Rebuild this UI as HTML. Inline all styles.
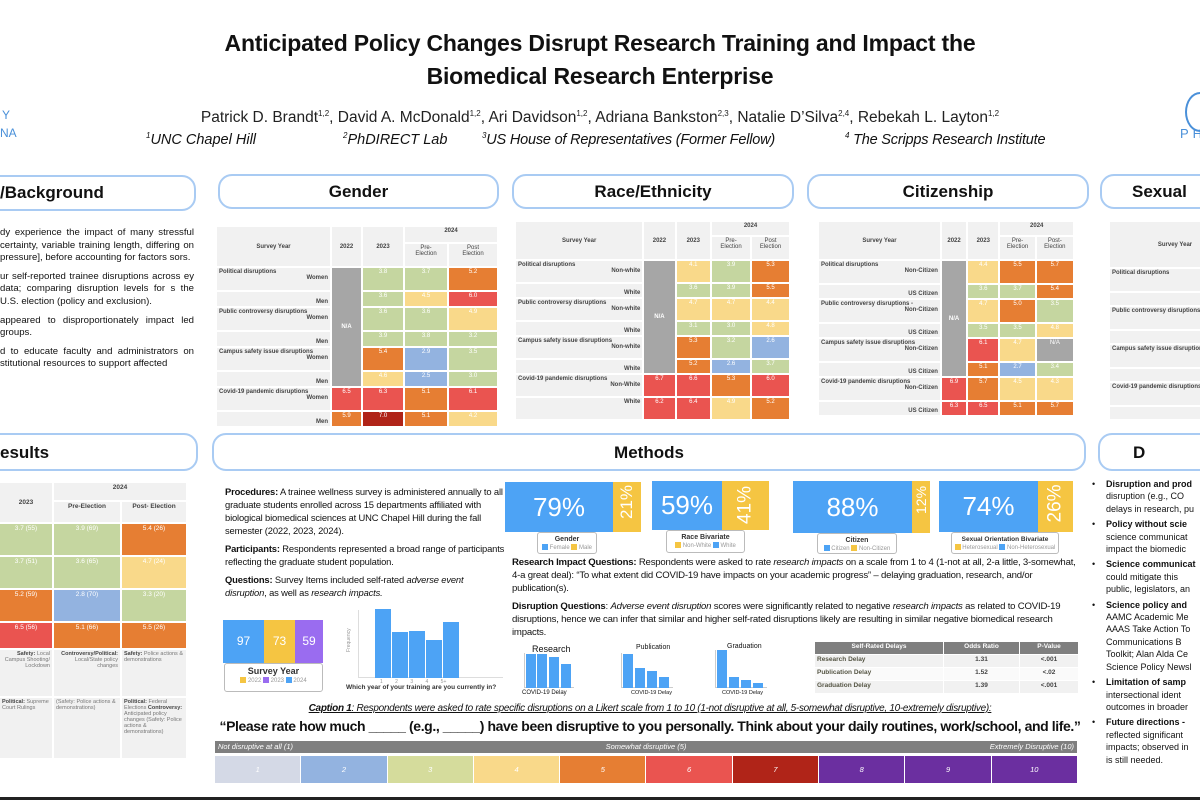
<!DOCTYPE html>
<html><head><meta charset="utf-8"><style>
*{margin:0;padding:0;box-sizing:border-box}
html,body{width:1200px;height:800px;overflow:hidden}
body{background:#fff;font-family:"Liberation Sans",sans-serif;position:relative;color:#111}
#w{position:absolute;left:0;top:0;width:1200px;height:800px;overflow:hidden}
.a{position:absolute}
.hdr{position:absolute;border:2px solid #a9cbf3;border-radius:14px;background:#fff;font-weight:bold;font-size:17px;text-align:center;line-height:31px}
table.t{position:absolute;border-collapse:separate;border-spacing:2px;font-size:6px;font-weight:bold;color:#444;table-layout:fixed}
table.t td{background:#f1f1f1;vertical-align:top;padding:1px 2px;text-align:center;overflow:hidden}
table.t td.l{text-align:left;white-space:nowrap}
table.t td.r{text-align:right;vertical-align:bottom}
table.t td.c{color:#fff;font-weight:normal}
.g{background:#c5d6a0!important}.y{background:#f9d98a!important}.o{background:#e67e33!important}.rd{background:#ea5450!important}.b{background:#93b3e0!important}.dr{background:#b02418!important}.na{background:#a6a6a6!important;vertical-align:middle!important;color:#fff!important}
.txt{font-size:9.6px;line-height:12.6px;text-align:justify}
.txt p{margin-bottom:6px}
.mt{font-size:9.6px;line-height:13px}
.mt p{margin-bottom:5px}
.bar{position:absolute;color:#fff;font-size:26px;text-align:center;overflow:hidden}
.leg{position:absolute;border:1px solid #bbb;border-radius:3px;background:#fff;font-size:6px;text-align:center;color:#999;line-height:9px;padding-top:2px;white-space:nowrap;overflow:hidden}
.leg b{color:#333;font-size:7px;display:block}
.sq{display:inline-block;width:6px;height:6px;vertical-align:middle}
.disc{font-size:9px;line-height:12.4px;white-space:nowrap}
.disc div{position:relative;padding-left:17px;margin-bottom:3px}
.disc div:before{content:"•";position:absolute;left:3px}
</style></head><body><div id="w">

<div class="a" style="left:0;top:27px;width:1200px;text-align:center;font-weight:bold;font-size:23px;line-height:33px;letter-spacing:-0.2px">Anticipated Policy Changes Disrupt Research Training and Impact the<br>Biomedical Research Enterprise</div>
<div class="a" style="left:0;top:109px;width:1200px;text-align:center;font-size:15.5px;color:#222">Patrick D. Brandt<sup style="font-size:8px">1,2</sup>, David A. McDonald<sup style="font-size:8px">1,2</sup>, Ari Davidson<sup style="font-size:8px">1,2</sup>, Adriana Bankston<sup style="font-size:8px">2,3</sup>, Natalie D’Silva<sup style="font-size:8px">2,4</sup>, Rebekah L. Layton<sup style="font-size:8px">1,2</sup></div>
<div class="a" style="left:146px;top:131px;font-size:14.5px;font-style:italic"><sup style="font-size:8px">1</sup>UNC Chapel Hill</div>
<div class="a" style="left:343px;top:131px;font-size:14.5px;font-style:italic"><sup style="font-size:8px">2</sup>PhDIRECT Lab</div>
<div class="a" style="left:482px;top:131px;font-size:14.5px;font-style:italic;letter-spacing:-0.2px"><sup style="font-size:8px">3</sup>US House of Representatives (Former Fellow)</div>
<div class="a" style="left:845px;top:131px;font-size:14.5px;font-style:italic;letter-spacing:-0.2px"><sup style="font-size:8px">4</sup> The Scripps Research Institute</div>
<div class="a" style="left:2px;top:108px;color:#4a90d9;font-size:12px">Y</div>
<div class="a" style="left:0;top:126px;color:#4a90d9;font-size:12px">NA</div>
<div class="a" style="left:1180px;top:126px;color:#4a90d9;font-size:13px;letter-spacing:4px">PH</div>
<div class="a" style="left:1185px;top:92px;width:30px;height:40px;border:2px solid #4a90d9;border-radius:50%"></div>

<div class="hdr" style="left:-20px;top:175px;width:216px;height:36px;text-align:left;padding-left:18px">/Background</div>
<div class="hdr" style="left:218px;top:174px;width:281px;height:35px">Gender</div>
<div class="hdr" style="left:512px;top:174px;width:282px;height:35px">Race/Ethnicity</div>
<div class="hdr" style="left:807px;top:174px;width:282px;height:35px">Citizenship</div>
<div class="hdr" style="left:1100px;top:174px;width:140px;height:35px;text-align:left;padding-left:30px">Sexual</div>
<div class="hdr" style="left:-20px;top:433px;width:218px;height:38px;text-align:left;padding-left:18px;line-height:35px">esults</div>
<div class="hdr" style="left:212px;top:433px;width:874px;height:38px;line-height:35px">Methods</div>
<div class="hdr" style="left:1098px;top:433px;width:140px;height:38px;line-height:35px;text-align:left;padding-left:33px">D</div>

<div class="a txt" style="left:0;top:227px;width:194px">
<p>dy experience the impact of many stressful certainty, variable training length, differing on pressure], before accounting for factors sors.</p>
<p>ur self-reported trainee disruptions across ey data; comparing disruption levels for s the U.S. election (policy and exclusion).</p>
<p>appeared to disproportionately impact led groups.</p>
<p>d to educate faculty and administrators on stitutional resources to support affected</p>
</div>

<!-- Gender table -->
<table class="t" style="left:215px;top:225px;width:276px">
<colgroup><col style="width:113px"><col style="width:29px"><col style="width:40px"><col style="width:42px"><col style="width:48px"></colgroup>
<tr style="height:15px"><td rowspan="2" style="vertical-align:middle">Survey Year</td><td rowspan="2" style="vertical-align:middle">2022</td><td rowspan="2" style="vertical-align:middle">2023</td><td colspan="2">2024</td></tr>
<tr style="height:22px"><td style="font-weight:normal">Pre-<br>Election</td><td style="font-weight:normal">Post<br>Election</td></tr>
<tr style="height:22px"><td class="l">Political disruptions<div style="text-align:right">Women</div></td><td rowspan="6" class="na">N/A</td><td class="c g">3.8</td><td class="c g">3.7</td><td class="c o">5.2</td></tr>
<tr style="height:14px"><td class="r">Men</td><td class="c g">3.6</td><td class="c y">4.5</td><td class="c rd">6.0</td></tr>
<tr style="height:22px"><td class="l">Public controversy disruptions<div style="text-align:right">Women</div></td><td class="c g">3.6</td><td class="c g">3.6</td><td class="c y">4.9</td></tr>
<tr style="height:14px"><td class="r">Men</td><td class="c g">3.9</td><td class="c g">3.8</td><td class="c g">3.2</td></tr>
<tr style="height:22px"><td class="l">Campus safety issue disruptions<div style="text-align:right">Women</div></td><td class="c o">5.4</td><td class="c b">2.9</td><td class="c g">3.5</td></tr>
<tr style="height:14px"><td class="r">Men</td><td class="c y">4.6</td><td class="c b">2.5</td><td class="c g">3.0</td></tr>
<tr style="height:22px"><td class="l">Covid-19 pandemic disruptions<div style="text-align:right">Women</div></td><td class="c rd">6.5</td><td class="c rd">6.3</td><td class="c o">5.1</td><td class="c rd">6.1</td></tr>
<tr style="height:14px"><td class="r">Men</td><td class="c o">5.9</td><td class="c dr">7.0</td><td class="c o">5.1</td><td class="c y">4.2</td></tr>
</table>

<!-- Race table -->
<table class="t" style="left:514px;top:220px;width:277px">
<colgroup><col style="width:113px"><col style="width:27px"><col style="width:30px"><col style="width:34px"><col style="width:33px"></colgroup>
<tr style="height:13px"><td rowspan="2" style="vertical-align:middle">Survey Year</td><td rowspan="2" style="vertical-align:middle">2022</td><td rowspan="2" style="vertical-align:middle">2023</td><td colspan="2">2024</td></tr>
<tr style="height:22px"><td style="font-weight:normal">Pre-<br>Election</td><td style="font-weight:normal">Post<br>Election</td></tr>
<tr style="height:21px"><td class="l">Political disruptions<div style="text-align:right">Non-white</div></td><td rowspan="6" class="na">N/A</td><td class="c y">4.1</td><td class="c g">3.9</td><td class="c o">5.3</td></tr>
<tr style="height:13px"><td class="r">White</td><td class="c g">3.6</td><td class="c g">3.9</td><td class="c o">5.5</td></tr>
<tr style="height:21px"><td class="l">Public controversy disruptions<div style="text-align:right">Non-white</div></td><td class="c y">4.7</td><td class="c y">4.7</td><td class="c y">4.4</td></tr>
<tr style="height:13px"><td class="r">White</td><td class="c g">3.1</td><td class="c g">3.0</td><td class="c y">4.8</td></tr>
<tr style="height:21px"><td class="l">Campus safety issue disruptions<div style="text-align:right">Non-white</div></td><td class="c o">5.3</td><td class="c g">3.2</td><td class="c b">2.6</td></tr>
<tr style="height:13px"><td class="r">White</td><td class="c o">5.2</td><td class="c b">2.6</td><td class="c g">3.7</td></tr>
<tr style="height:21px"><td class="l">Covid-19 pandemic disruptions<div style="text-align:right">Non-White</div></td><td class="c rd">6.7</td><td class="c rd">6.6</td><td class="c o">5.3</td><td class="c rd">6.0</td></tr>
<tr style="height:21px"><td class="r" style="vertical-align:top">White</td><td class="c rd">6.2</td><td class="c rd">6.4</td><td class="c y">4.9</td><td class="c o">5.2</td></tr>
</table>

<!-- Citizenship table -->
<table class="t" style="left:817px;top:220px;width:258px">
<colgroup><col style="width:120px"><col style="width:24px"><col style="width:30px"><col style="width:34px"><col style="width:36px"></colgroup>
<tr style="height:13px"><td rowspan="2" style="vertical-align:middle">Survey Year</td><td rowspan="2" style="vertical-align:middle">2022</td><td rowspan="2" style="vertical-align:middle">2023</td><td colspan="2">2024</td></tr>
<tr style="height:22px"><td style="font-weight:normal">Pre-<br>Election</td><td style="font-weight:normal">Post-<br>Election</td></tr>
<tr style="height:22px"><td class="l">Political disruptions<div style="text-align:right">Non-Citizen</div></td><td rowspan="6" class="na">N/A</td><td class="c y">4.4</td><td class="c o">5.5</td><td class="c o">5.7</td></tr>
<tr style="height:13px"><td class="r">US Citizen</td><td class="c g">3.6</td><td class="c g">3.7</td><td class="c o">5.4</td></tr>
<tr style="height:22px"><td class="l">Public controversy disruptions -<div style="text-align:right">Non-Citizen</div></td><td class="c y">4.7</td><td class="c o">5.0</td><td class="c g">3.5</td></tr>
<tr style="height:13px"><td class="r">US Citizen</td><td class="c g">3.5</td><td class="c g">3.5</td><td class="c y">4.8</td></tr>
<tr style="height:22px"><td class="l">Campus safety issue disruptions<div style="text-align:right">Non-Citizen</div></td><td class="c rd">6.1</td><td class="c y">4.7</td><td class="c na" style="vertical-align:top!important">N/A</td></tr>
<tr style="height:13px"><td class="r">US Citizen</td><td class="c o">5.1</td><td class="c b">2.7</td><td class="c g">3.4</td></tr>
<tr style="height:22px"><td class="l">Covid-19 pandemic disruptions<div style="text-align:right">Non-Citizen</div></td><td class="c rd">6.9</td><td class="c o">5.7</td><td class="c y">4.5</td><td class="c y">4.3</td></tr>
<tr style="height:13px"><td class="r">US Citizen</td><td class="c rd">6.3</td><td class="c rd">6.5</td><td class="c o">5.1</td><td class="c o">5.7</td></tr>
</table>

<!-- Sexual table partial -->
<table class="t" style="left:1108px;top:220px;width:130px">
<colgroup><col style="width:130px"></colgroup>
<tr style="height:45px"><td style="vertical-align:middle">Survey Year</td></tr>
<tr style="height:22px"><td class="l">Political disruptions</td></tr>
<tr style="height:12px"><td class="r">N</td></tr>
<tr style="height:22px"><td class="l">Public controversy disruptions</td></tr>
<tr style="height:12px"><td class="r">N</td></tr>
<tr style="height:22px"><td class="l">Campus safety issue disruptions</td></tr>
<tr style="height:12px"><td class="r">N</td></tr>
<tr style="height:22px"><td class="l">Covid-19 pandemic disruptions</td></tr>
<tr style="height:12px"><td class="r">N</td></tr>
</table>

<!-- Results table -->
<table class="t" style="left:-2px;top:481px;width:188px;font-size:6.5px">
<colgroup><col style="width:52px"><col style="width:66px"><col style="width:64px"></colgroup>
<tr style="height:17px"><td rowspan="2" style="vertical-align:middle">2023</td><td colspan="2">2024</td></tr>
<tr style="height:20px"><td>Pre-Election</td><td>Post- Election</td></tr>
<tr style="height:31px"><td class="c g">3.7 (55)</td><td class="c g">3.9 (69)</td><td class="c o">5.4 (26)</td></tr>
<tr style="height:31px"><td class="c g">3.7 (51)</td><td class="c g">3.6 (65)</td><td class="c y">4.7 (24)</td></tr>
<tr style="height:31px"><td class="c o">5.2 (59)</td><td class="c b">2.8 (70)</td><td class="c g">3.3 (20)</td></tr>
<tr style="height:25px"><td class="c rd">6.5 (56)</td><td class="c o">5.1 (66)</td><td class="c o">5.5 (26)</td></tr>
<tr style="height:46px"><td style="text-align:right;font-weight:normal;color:#777;font-size:5.5px"><b style="color:#444">Safety:</b> Local Campus Shooting/ Lockdown</td><td style="text-align:right;font-weight:normal;color:#777;font-size:5.5px"><b style="color:#444">Controversy/Political:</b> Local/State policy changes</td><td style="text-align:left;font-weight:normal;color:#777;font-size:5.5px"><b style="color:#444">Safety:</b> Police actions &amp; demonstrations</td></tr>
<tr style="height:60px"><td style="text-align:left;font-weight:normal;color:#777;font-size:5.5px"><b style="color:#444">Political:</b> Supreme Court Rulings</td><td style="text-align:left;font-weight:normal;color:#777;font-size:5.5px">(Safety: Police actions &amp; demonstrations)</td><td style="text-align:left;font-weight:normal;color:#777;font-size:5.5px"><b style="color:#444">Political:</b> Federal Elections <b style="color:#444">Controversy:</b> Anticipated policy changes (Safety: Police actions &amp; demonstrations)</td></tr>
</table>

<!-- Methods text -->
<div class="a mt" style="left:225px;top:485px;width:282px;font-size:9.4px;letter-spacing:-0.15px">
<p><b>Procedures:</b> A trainee wellness survey is administered annually to all graduate students enrolled across 15 departments affiliated with biological biomedical sciences at UNC Chapel Hill during the fall semester (2022, 2023, 2024).</p>
<p><b>Participants:</b> Respondents represented a broad range of participants reflecting the graduate student population.</p>
<p><b>Questions:</b> Survey Items included self-rated <i>adverse event disruption</i>, as well as <i>research impacts.</i></p>
</div>
<div class="bar" style="left:223px;top:620px;width:41px;height:43px;background:#4da3f5;font-size:12px;line-height:43px">97</div>
<div class="bar" style="left:264px;top:620px;width:31px;height:43px;background:#f5c542;font-size:12px;line-height:43px">73</div>
<div class="bar" style="left:295px;top:620px;width:28px;height:43px;background:#9a6cf0;font-size:12px;line-height:43px">59</div>
<div class="leg" style="left:224px;top:663px;width:99px;height:29px"><b style="font-size:9px;line-height:11px">Survey Year</b><span class="sq" style="background:#f5c542"></span> 2022 <span class="sq" style="background:#9a6cf0"></span> 2023 <span class="sq" style="background:#4da3f5"></span> 2024</div>
<div class="a" style="left:358px;top:610px;width:145px;height:68px;border-left:1px solid #ddd;border-bottom:1px solid #ddd"></div>
<div class="a" style="left:375px;top:609px;width:16px;height:69px;background:#4da3f5"></div>
<div class="a" style="left:392px;top:632px;width:16px;height:46px;background:#4da3f5"></div>
<div class="a" style="left:409px;top:631px;width:16px;height:47px;background:#4da3f5"></div>
<div class="a" style="left:426px;top:640px;width:16px;height:38px;background:#4da3f5"></div>
<div class="a" style="left:443px;top:622px;width:16px;height:56px;background:#4da3f5"></div>
<div class="a" style="left:346px;top:652px;font-size:5px;color:#999;transform:rotate(-90deg);transform-origin:left top">Frequency</div>
<div class="a" style="left:346px;top:684px;font-size:6.5px;font-weight:bold;color:#333">Which year of your training are you currently in?</div>
<div class="a" style="left:380px;top:679px;font-size:5px;color:#999;word-spacing:11px">1 2 3 4 5+</div>

<div class="bar" style="left:505px;top:482px;width:108px;height:50px;background:#4da3f5;line-height:50px">79%</div>
<div class="bar" style="left:613px;top:482px;width:28px;height:50px;background:#f5c542"><div style="transform:rotate(-90deg);margin-top:13px;font-size:17px">21%</div></div>
<div class="leg" style="left:537px;top:532px;width:60px;height:22px"><b>Gender</b><span class="sq" style="background:#4da3f5"></span> Female <span class="sq" style="background:#f5c542"></span> Male</div>
<div class="bar" style="left:652px;top:481px;width:70px;height:49px;background:#4da3f5;line-height:49px">59%</div>
<div class="bar" style="left:722px;top:481px;width:47px;height:49px;background:#f5c542"><div style="transform:rotate(-90deg);margin-top:13px;font-size:19px">41%</div></div>
<div class="leg" style="left:666px;top:530px;width:79px;height:23px"><b>Race Bivariate</b><span class="sq" style="background:#f5c542"></span> Non-White <span class="sq" style="background:#4da3f5"></span> White</div>
<div class="bar" style="left:793px;top:481px;width:119px;height:52px;background:#4da3f5;line-height:52px">88%</div>
<div class="bar" style="left:912px;top:481px;width:18px;height:52px;background:#f5c542"><div style="transform:rotate(-90deg);margin-top:16px;font-size:14px">12%</div></div>
<div class="leg" style="left:817px;top:533px;width:80px;height:21px"><b>Citizen</b><span class="sq" style="background:#4da3f5"></span> Citizen <span class="sq" style="background:#f5c542"></span> Non-Citizen</div>
<div class="bar" style="left:939px;top:481px;width:99px;height:51px;background:#4da3f5;line-height:51px">74%</div>
<div class="bar" style="left:1038px;top:481px;width:35px;height:51px;background:#f5c542"><div style="transform:rotate(-90deg);margin-top:13px;font-size:19px">26%</div></div>
<div class="leg" style="left:951px;top:532px;width:108px;height:22px"><b style="font-size:6.5px">Sexual Orientation Bivariate</b><span class="sq" style="background:#f5c542"></span> Heterosexual <span class="sq" style="background:#4da3f5"></span> Non-Heterosexual</div>

<div class="a mt" style="left:512px;top:556px;width:572px;font-size:9.6px;letter-spacing:-0.2px">
<p><b>Research Impact Questions:</b> Respondents were asked to rate <i>research impacts</i> on a scale from 1 to 4 (1-not at all, 2-a little, 3-somewhat, 4-a great deal): “To what extent did COVID-19 have impacts on your academic progress” – delaying graduation, research, and/or publication(s).</p>
<p><b>Disruption Questions</b>: <i>Adverse event disruption</i> scores were significantly related to negative <i>research impacts</i> as related to COVID-19 disruptions, hence we can infer that similar and higher self-rated disruptions likely are resulting in similar negative biomedical research impacts.</p>
</div>

<div class="a" style="left:532px;top:644px;font-size:9px">Research</div>
<div class="a" style="left:524px;top:653px;width:50px;height:35px;border-left:1px solid #ccc;border-bottom:1px solid #ccc"></div>
<div class="a" style="left:526px;top:654px;width:10px;height:34px;background:#4da3f5"></div>
<div class="a" style="left:537px;top:654px;width:10px;height:34px;background:#4da3f5"></div>
<div class="a" style="left:549px;top:657px;width:10px;height:31px;background:#4da3f5"></div>
<div class="a" style="left:561px;top:664px;width:10px;height:24px;background:#4da3f5"></div>
<div class="a" style="left:522px;top:690px;font-size:6px">COVID-19 Delay</div>
<div class="a" style="left:636px;top:644px;font-size:7px">Publication</div>
<div class="a" style="left:621px;top:653px;width:52px;height:35px;border-left:1px solid #ccc;border-bottom:1px solid #ccc"></div>
<div class="a" style="left:623px;top:654px;width:10px;height:34px;background:#4da3f5"></div>
<div class="a" style="left:635px;top:668px;width:10px;height:20px;background:#4da3f5"></div>
<div class="a" style="left:647px;top:671px;width:10px;height:17px;background:#4da3f5"></div>
<div class="a" style="left:659px;top:677px;width:10px;height:11px;background:#4da3f5"></div>
<div class="a" style="left:631px;top:690px;font-size:5.5px">COVID-19 Delay</div>
<div class="a" style="left:727px;top:643px;font-size:7px">Graduation</div>
<div class="a" style="left:715px;top:650px;width:52px;height:38px;border-left:1px solid #ccc;border-bottom:1px solid #ccc"></div>
<div class="a" style="left:717px;top:650px;width:10px;height:38px;background:#4da3f5"></div>
<div class="a" style="left:729px;top:677px;width:10px;height:11px;background:#4da3f5"></div>
<div class="a" style="left:741px;top:680px;width:10px;height:8px;background:#4da3f5"></div>
<div class="a" style="left:753px;top:683px;width:10px;height:5px;background:#4da3f5"></div>
<div class="a" style="left:722px;top:690px;font-size:5.5px">COVID-19 Delay</div>

<table class="t" style="left:814px;top:641px;width:263px;font-size:6.5px;border-spacing:1px">
<colgroup><col style="width:128px"><col style="width:75px"><col style="width:58px"></colgroup>
<tr style="height:12px"><td style="background:#7f7f7f;color:#fff">Self-Rated Delays</td><td style="background:#7f7f7f;color:#fff">Odds Ratio</td><td style="background:#7f7f7f;color:#fff">P-Value</td></tr>
<tr style="height:12px"><td class="l" style="color:#554">Research Delay</td><td>1.31</td><td>&lt;.001</td></tr>
<tr style="height:12px"><td class="l" style="background:#fafafa;color:#554">Publication Delay</td><td style="background:#fafafa">1.52</td><td style="background:#fafafa">&lt;.02</td></tr>
<tr style="height:12px"><td class="l" style="color:#554">Graduation Delay</td><td>1.39</td><td>&lt;.001</td></tr>
</table>

<div class="a" style="left:210px;top:703px;width:880px;text-align:center;font-size:10px;font-style:italic;text-decoration:underline;letter-spacing:-0.3px"><b>Caption 1</b>: Respondents were asked to rate specific disruptions on a Likert scale from 1 to 10 (1-not disruptive at all, 5-somewhat disruptive, 10-extremely disruptive):</div>
<div class="a" style="left:200px;top:718px;width:900px;text-align:center;font-size:14px;font-weight:bold;letter-spacing:-0.4px">“Please rate how much _____ (e.g., _____) have been disruptive to you personally. Think about your daily routines, work/school, and life.”</div>
<div class="a" style="left:215px;top:741px;width:862px;height:12px;background:#7f7f7f;color:#fff;font-size:7.5px;font-style:italic;line-height:12px">
<span style="position:absolute;left:3px">Not disruptive at all (1)</span><span style="position:absolute;left:0;width:100%;text-align:center">Somewhat disruptive (5)</span><span style="position:absolute;right:3px">Extremely Disruptive (10)</span></div>
<div class="a" style="left:215px;top:756px;width:862px;height:27px;display:flex;gap:1px;font-size:7.5px;font-style:italic;color:#fff;text-align:center;line-height:27px">
<div style="flex:1;background:#d4d9e6">1</div><div style="flex:1;background:#93b3e0">2</div><div style="flex:1;background:#d5dc9c">3</div><div style="flex:1;background:#f9d98a">4</div><div style="flex:1;background:#e67e33">5</div><div style="flex:1;background:#ea5450">6</div><div style="flex:1;background:#b02418">7</div><div style="flex:1;background:#6b2fa0">8</div><div style="flex:1;background:#6b2fa0">9</div><div style="flex:1;background:#6b2fa0">10</div></div>

<div class="a disc" style="left:1089px;top:478px;width:200px">
<div><b>Disruption and prod</b><br>disruption (e.g., CO<br>delays in research, pu</div>
<div><b>Policy without scie</b><br>science communicat<br>impact the biomedic</div>
<div><b>Science communicat</b><br>could mitigate this<br>public, legislators, an</div>
<div><b>Science policy and</b><br>AAMC Academic Me<br>AAAS Take Action To<br>Communications B<br>Toolkit; Alan Alda Ce<br>Science Policy Newsl</div>
<div><b>Limitation of samp</b><br>intersectional ident<br>outcomes in broader</div>
<div><b>Future directions -</b><br>reflected significant<br>impacts; observed in<br>is still needed.</div>
</div>
<div class="a" style="left:0;top:797px;width:1200px;height:3px;background:#222"></div>
</div></body></html>
